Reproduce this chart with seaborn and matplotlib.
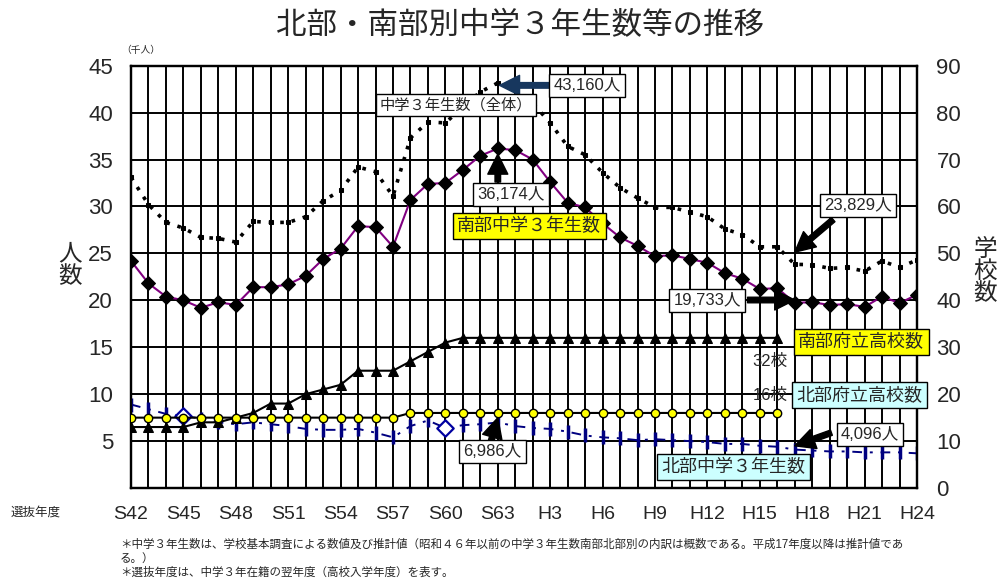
import numpy as np
import pandas as pd
import seaborn as sns
import matplotlib.pyplot as plt

# selection years S42 (1967) .. H24 (2012)
years = list(range(1967, 2013))
xtick_years = list(range(1967, 2013, 3))
xtick_labels = ['S42', 'S45', 'S48', 'S51', 'S54', 'S57', 'S60', 'S63',
                'H3', 'H6', 'H9', 'H12', 'H15', 'H18', 'H21', 'H24']

# junior high 3rd-year students (thousands)
total = [33.1, 30.2, 28.3, 27.7, 26.7, 26.6, 26.2, 28.4, 28.3, 28.3,
         28.9, 30.6, 31.7, 34.2, 33.7, 31.1, 37.3, 39.0, 38.9, 40.6,
         42.2, 43.16, 42.6, 41.0, 38.9, 36.4, 35.5, 33.6, 32.0, 30.9,
         29.9, 29.9, 29.4, 28.9, 27.6, 27.0, 25.7, 25.7, 23.829, 23.8,
         23.4, 23.5, 23.1, 24.2, 23.5, 24.3]
south = [24.2, 21.8, 20.4, 20.0, 19.2, 19.8, 19.5, 21.4, 21.4, 21.7,
         22.6, 24.4, 25.5, 27.9, 27.8, 25.7, 30.7, 32.4, 32.5, 33.9,
         35.4, 36.174, 36.0, 35.0, 32.6, 30.4, 29.9, 28.2, 26.7, 25.8,
         24.7, 24.8, 24.4, 24.0, 22.9, 22.3, 21.2, 21.3, 19.733, 19.8,
         19.5, 19.6, 19.3, 20.4, 19.7, 20.6]
north = [8.9, 8.4, 7.9, 7.7, 7.4, 7.0, 6.8, 7.0, 6.8, 6.6,
         6.3, 6.2, 6.2, 6.3, 5.9, 5.4, 6.6, 7.2, 6.4, 6.7,
         6.8, 6.986, 6.6, 6.4, 6.3, 6.0, 5.6, 5.4, 5.3, 5.1,
         5.2, 5.1, 5.0, 4.9, 4.7, 4.7, 4.5, 4.4, 4.096, 4.0,
         3.9, 3.9, 3.8, 3.8, 3.8, 3.7]
north_diamond_years = [1970, 1985]

# prefectural high schools (count), until H16
school_years = list(range(1967, 2005))
south_schools = [13, 13, 13, 13, 14, 14, 15, 16, 18, 18,
                 20, 21, 22, 25, 25, 25, 27, 29, 31, 32,
                 32, 32, 32, 32, 32, 32, 32, 32, 32, 32,
                 32, 32, 32, 32, 32, 32, 32, 32]
north_schools = [15, 15, 15, 15, 15, 15, 15, 15, 15, 15,
                 15, 15, 15, 15, 15, 15, 16, 16, 16, 16,
                 16, 16, 16, 16, 16, 16, 16, 16, 16, 16,
                 16, 16, 16, 16, 16, 16, 16, 16]

df = pd.DataFrame({'year': years, 'total': total, 'south': south, 'north': north})
sdf = pd.DataFrame({'year': school_years, 'south_sc': south_schools, 'north_sc': north_schools})

sns.set_style('white')
plt.rcParams['font.family'] = ['Liberation Sans', 'Noto Sans CJK JP']

fig = plt.figure(figsize=(10, 5.81), dpi=100)
ax = fig.add_axes([0.131, 0.160, 0.917 - 0.131, 0.887 - 0.160])
ax2 = ax.twinx()

# students, left axis
sns.lineplot(data=df, x='year', y='total', ax=ax, color='black', lw=2.6,
             linestyle=(0, (1, 2.2)), marker='s', ms=3.5, mec='black', zorder=3)
sns.lineplot(data=df, x='year', y='south', ax=ax, color='#800080', lw=1.5,
             marker='D', ms=7, mfc='black', mec='black', zorder=4)
sns.lineplot(data=df, x='year', y='north', ax=ax, color='#000080', lw=1.4,
             linestyle=(0, (5, 4, 1.5, 4)), marker='|', ms=10, mew=2.5,
             mec='#000080', zorder=4)
dsub = df[df['year'].isin(north_diamond_years)]
ax.scatter(dsub['year'], dsub['north'], marker='D', s=70, facecolor='white',
           edgecolor='#0000A0', lw=1.6, zorder=5)

# schools, right axis
sns.lineplot(data=sdf, x='year', y='south_sc', ax=ax2, color='black', lw=1.5,
             marker='^', ms=7.5, mfc='black', mec='black', zorder=4)
sns.lineplot(data=sdf, x='year', y='north_sc', ax=ax2, color='black', lw=1.5,
             marker='o', ms=6, mfc='#FFFF00', mec='black', mew=1, zorder=4)

ax.set_xlim(1967, 2012)
ax.set_ylim(0, 45)
ax2.set_ylim(0, 90)
ax.set_yticks(range(5, 50, 5))
ax2.set_yticks(range(0, 100, 10))
ax.set_xticks(xtick_years)
ax.set_xticklabels(xtick_labels)
ax.set_xticks(years, minor=True)
ax.grid(True, which='both', axis='x', color='black', lw=1.4)
ax.grid(True, which='major', axis='y', color='black', lw=1.4)
ax.set_axisbelow(True)
ax.tick_params(axis='y', length=0, pad=13, labelsize=16)
ax.tick_params(axis='x', which='both', length=0, pad=13, labelsize=14)
ax2.tick_params(axis='y', length=0, pad=14, labelsize=16)
for a in (ax, ax2):
    a.set_xlabel('')
    a.set_ylabel('')
    for sp in a.spines.values():
        sp.set_color('black')
        sp.set_linewidth(1.6)

# titles and axis captions
fig.text(0.52, 0.955, '北部・南部別中学３年生数等の推移', ha='center', va='center', fontsize=22)
fig.text(0.141, 0.914, '（千人）', ha='center', va='center', fontsize=7)
fig.text(0.070, 0.542, '人\n数', ha='center', va='center', fontsize=17, linespacing=1.05)
fig.text(0.985, 0.532, '学\n校\n数', ha='center', va='center', fontsize=17, linespacing=1.0)
fig.text(0.036, 0.117, '選抜年度', ha='center', va='center', fontsize=9)
fig.text(0.12, 0.0620, '＊中学３年生数は、学校基本調査による数値及び推計値（昭和４６年以前の中学３年生数南部北部別の内訳は概数である。平成17年度以降は推計値であ',
         ha='left', va='center', fontsize=8.3)
fig.text(0.12, 0.0380, 'る。）', ha='left', va='center', fontsize=8.3)
fig.text(0.12, 0.0140, '＊選抜年度は、中学３年在籍の翌年度（高校入学年度）を表す。', ha='left', va='center', fontsize=8.3)


def boxed(x, y, s, fc, size):
    ax2.text(x, y, s, transform=ax.transData, ha='center', va='center', fontsize=size,
             zorder=10, bbox=dict(boxstyle='square,pad=0.25', fc=fc, ec='black', lw=1))


def arrow(x0, y0, x1, y1, color='black'):
    ax2.annotate('', xy=(x1, y1), xytext=(x0, y0), xycoords=ax.transData,
                 textcoords=ax.transData, zorder=9,
                 arrowprops=dict(arrowstyle='simple,head_length=0.9,head_width=0.9,tail_width=0.25',
                                 fc=color, ec=color, mutation_scale=16, shrinkA=0, shrinkB=0))


peak = years.index(1988)
est = years.index(2005)

arrow(1992.0, 42.9, 1988.1, 42.9, color='#17375E')
boxed(1993.1, 42.9, '43,160人', 'white', 12)
boxed(1985.6, 40.8, '中学３年生数（全体）', 'white', 11)
arrow(1988.0, 32.6, 1988.0, south[peak] - 0.6)
boxed(1988.75, 31.3, '36,174人', 'white', 12)
boxed(1989.8, 27.9, '南部中学３年生数', '#FFFF00', 13)

arrow(2007.2, 28.6, 2005.0, total[est] + 1.3)
boxed(2008.6, 30.1, '23,829人', 'white', 12)
arrow(2002.3, south[est] + 0.3, 2005.0, south[est] + 0.3)
boxed(2000.0, 20.0, '19,733人', 'white', 12)
boxed(2008.8, 15.6, '南部府立高校数', '#FFFF00', 13)
ax2.text(2003.6, 13.5, '32校', transform=ax.transData, ha='center', va='center', fontsize=12, zorder=10)
ax2.text(2003.6, 9.9, '16校', transform=ax.transData, ha='center', va='center', fontsize=12, zorder=10)
boxed(2008.7, 9.9, '北部府立高校数', '#CCFFFF', 13)

arrow(1987.6, 4.9, 1988.0, north[peak] + 0.5)
boxed(1987.7, 3.9, '6,986人', 'white', 12)
arrow(2007.1, 5.9, 2005.0, north[est] + 0.4)
boxed(2009.3, 5.7, '4,096人', 'white', 12)
boxed(2001.5, 2.2, '北部中学３年生数', '#CCFFFF', 13)

fig.savefig('out.png', dpi=100)
